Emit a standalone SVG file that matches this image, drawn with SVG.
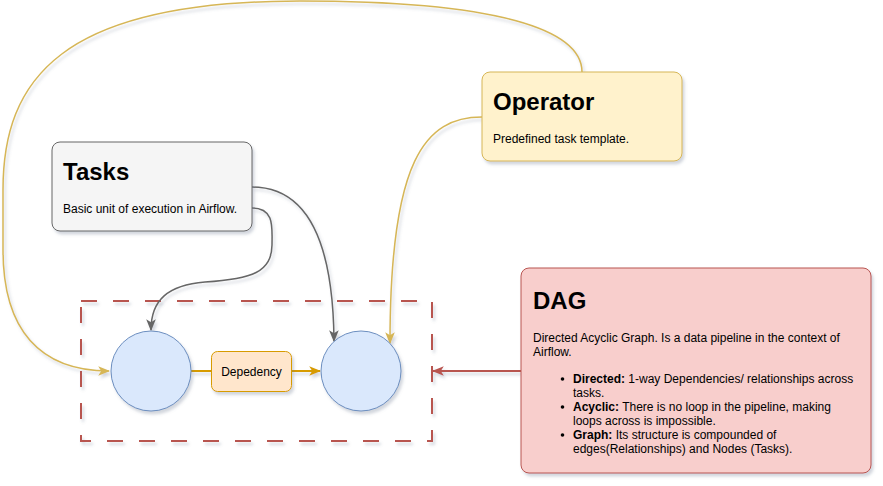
<svg xmlns="http://www.w3.org/2000/svg" width="883" height="486" viewBox="0 0 883 486">
<style>
  text { font-family: "Liberation Sans", Arial, Helvetica, sans-serif; fill: #000; }
  .h { font-size: 24px; font-weight: bold; }
  .b { font-size: 12px; }
  .e { fill: none; filter: url(#she); }
  .node { filter: url(#sh); }
</style>
<defs>
  <filter id="sh" x="-20%" y="-20%" width="140%" height="140%">
    <feDropShadow dx="2" dy="3" stdDeviation="1.5" flood-color="#6a7690" flood-opacity="0.3"/>
  </filter>
  <filter id="she" filterUnits="userSpaceOnUse" x="0" y="0" width="883" height="486">
    <feDropShadow dx="2" dy="3" stdDeviation="1.5" flood-color="#6a7690" flood-opacity="0.3"/>
  </filter>
  <marker id="aY" markerUnits="userSpaceOnUse" markerWidth="12" markerHeight="12" viewBox="0 0 10 8" refX="9" refY="4" orient="auto">
    <path d="M0,0 L10,4 L0,8 L2.5,4 Z" fill="#d6b656"/>
  </marker>
  <marker id="aO" markerUnits="userSpaceOnUse" markerWidth="12" markerHeight="12" viewBox="0 0 10 8" refX="9" refY="4" orient="auto">
    <path d="M0,0 L10,4 L0,8 L2.5,4 Z" fill="#d79b00"/>
  </marker>
  <marker id="aG" markerUnits="userSpaceOnUse" markerWidth="12" markerHeight="12" viewBox="0 0 10 8" refX="9" refY="4" orient="auto">
    <path d="M0,0 L10,4 L0,8 L2.5,4 Z" fill="#666666"/>
  </marker>
  <marker id="aR" markerUnits="userSpaceOnUse" markerWidth="12" markerHeight="12" viewBox="0 0 10 8" refX="9" refY="4" orient="auto">
    <path d="M0,0 L10,4 L0,8 L2.5,4 Z" fill="#b85450"/>
  </marker>
</defs>
<rect width="883" height="486" fill="#ffffff"/>

<g id="dag-group">
  <rect x="81" y="301" width="351" height="140" fill="none" stroke="#b85450" stroke-width="2" stroke-dasharray="16 16" filter="url(#she)"/>
</g>

<g id="connectors">
  <path class="e" d="M582,72 C582,30 500,1 300,1 C60,1 3,80 3,190 L3,250 C3,330 40,371 109,371" stroke="#d6b656" stroke-width="1.5" marker-end="url(#aY)"/>
  <path class="e" d="M482,117 C425,117 390,160 390,343" stroke="#d6b656" stroke-width="1.5" marker-end="url(#aY)"/>
  <path class="e" d="M252,187 C300,187 333,228 334,341" stroke="#666666" stroke-width="1.5" marker-end="url(#aG)"/>
  <path class="e" d="M252,208 C275,208 272,228 272,245 C272,272 252,279 205,282 C168,285 151,300 151,330" stroke="#666666" stroke-width="1.5" marker-end="url(#aG)"/>
  <path class="e" d="M191,371 L211,371" stroke="#d79b00" stroke-width="2"/>
  <path class="e" d="M291,371 L320,371" stroke="#d79b00" stroke-width="2" marker-end="url(#aO)"/>
  <path class="e" d="M521,371 L433,371" stroke="#b85450" stroke-width="2" marker-end="url(#aR)"/>
</g>

<g id="operator">
  <rect class="node" x="482" y="72" width="200" height="89" rx="8" fill="#fff2cc" stroke="#d6b656"/>
  <text class="h" x="493" y="110">Operator</text>
  <text class="b" x="493" y="143">Predefined task template.</text>
</g>

<g id="tasks">
  <rect class="node" x="52" y="142" width="200" height="89" rx="8" fill="#f5f5f5" stroke="#666666"/>
  <text class="h" x="63" y="180">Tasks</text>
  <text class="b" x="63" y="213">Basic unit of execution in Airflow.</text>
</g>

<g id="dag">
  <rect class="node" x="521" y="268" width="350" height="205" rx="8" fill="#f8cecc" stroke="#b85450"/>
  <text class="h" x="533" y="309">DAG</text>
  <text class="b" x="533" y="342">Directed Acyclic Graph. Is a data pipeline in the context of</text>
  <text class="b" x="533" y="356">Airflow.</text>
  <g class="b">
    <circle cx="562.5" cy="379" r="1.8" fill="#000"/>
    <text class="b" x="573" y="383"><tspan font-weight="bold">Directed:</tspan> 1-way Dependencies/ relationships across</text>
    <text class="b" x="573" y="397">tasks.</text>
    <circle cx="562.5" cy="407" r="1.8" fill="#000"/>
    <text class="b" x="573" y="411"><tspan font-weight="bold">Acyclic:</tspan> There is no loop in the pipeline, making</text>
    <text class="b" x="573" y="425">loops across is impossible.</text>
    <circle cx="562.5" cy="435" r="1.8" fill="#000"/>
    <text class="b" x="573" y="439"><tspan font-weight="bold">Graph:</tspan> Its structure is compounded of</text>
    <text class="b" x="573" y="453">edges(Relationships) and Nodes (Tasks).</text>
  </g>
</g>

<g id="task1">
  <circle class="node" cx="151" cy="371" r="40" fill="#dae8fc" stroke="#6c8ebf"/>
</g>

<g id="task2">
  <circle class="node" cx="361" cy="371" r="40" fill="#dae8fc" stroke="#6c8ebf"/>
</g>

<g id="dependency">
  <rect class="node" x="211.5" y="351.5" width="80" height="40" rx="6" fill="#ffe6cc" stroke="#d79b00"/>
  <text class="b" x="251.5" y="375.5" text-anchor="middle">Depedency</text>
</g>
</svg>
